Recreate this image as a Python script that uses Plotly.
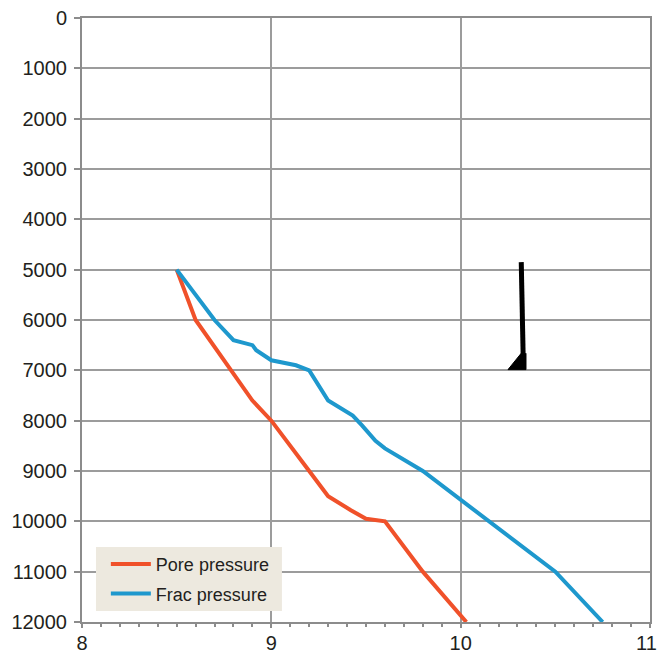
import plotly.graph_objects as go

# Pressure gradient profiles (ppg) versus depth (ft)
pore_ppg = [8.5, 8.6, 8.9, 9.0, 9.2, 9.28, 9.3, 9.42, 9.5, 9.6, 9.8, 10.03]
pore_depth = [5000, 6000, 7600, 8000, 9000, 9400, 9500, 9780, 9950, 10000, 11000, 12000]

frac_ppg = [8.5, 8.7, 8.8, 8.9, 8.92, 9.0, 9.13, 9.2, 9.3, 9.43, 9.48, 9.55, 9.6, 9.8, 10.5, 10.75]
frac_depth = [5000, 6000, 6400, 6500, 6600, 6800, 6900, 7000, 7600, 7900, 8100, 8400, 8550, 9000, 11000, 12000]

# Casing string with its shoe
casing_ppg = [10.32, 10.33]
casing_depth = [4850, 6700]
shoe_ppg = [10.32, 10.25, 10.345, 10.345]
shoe_depth = [6660, 6985, 6985, 6660]

x_ticks = [8, 9, 10, 11]
x_labels = ["8", "9", "10", "11"]
y_ticks = list(range(0, 12001, 1000))
y_labels = [str(v) for v in y_ticks]

ORANGE = "#F0512A"
BLUE = "#1E98CD"
GRID = "#9c9c9c"
AXIS = "#8c8c8c"
TEXT = "#231f20"
LEGEND_BG = "#EDE9DF"

fig = go.Figure()
fig.add_trace(go.Scatter(x=pore_ppg, y=pore_depth, mode="lines", name="Pore pressure",
                         legendgroup="pore", line=dict(color=ORANGE, width=4)))
fig.add_trace(go.Scatter(x=frac_ppg, y=frac_depth, mode="lines", name="Frac pressure",
                         legendgroup="frac", line=dict(color=BLUE, width=4)))
fig.add_trace(go.Scatter(x=casing_ppg, y=casing_depth, mode="lines", showlegend=False,
                         line=dict(color="black", width=5)))
fig.add_trace(go.Scatter(x=shoe_ppg, y=shoe_depth, mode="lines", fill="toself", fillcolor="black",
                         showlegend=False, line=dict(color="black", width=1)))

# Legend panel background
fig.add_shape(type="rect", xref="paper", yref="paper",
              x0=0.0246, x1=0.352, y0=0.0182, y1=0.1242,
              fillcolor=LEGEND_BG, line=dict(width=0), layer="above")

# The last x label sits at the right edge of the page; nudge it inward so it stays readable
fig.add_annotation(x=x_ticks[-1], xref="x", y=0, yref="paper", yanchor="top",
                   text=x_labels[-1], showarrow=False, xanchor="center", xshift=-4, yshift=-8,
                   font=dict(size=20, color=TEXT))

fig.update_layout(
    width=658, height=656,
    margin=dict(l=82, r=8, t=18, b=34),
    paper_bgcolor="white", plot_bgcolor="white",
    font=dict(family="Liberation Sans, Arial, sans-serif", color=TEXT, size=20),
    legend=dict(x=0.042, y=0.126, xanchor="left", yanchor="top",
                bgcolor="rgba(0,0,0,0)", borderwidth=0, itemwidth=40,
                traceorder="grouped", tracegroupgap=3,
                font=dict(size=18, color=TEXT)),
)
fig.update_xaxes(range=[8, 11], tickvals=x_ticks, ticktext=x_labels[:-1] + [""], automargin=False,
                 ticklabeloverflow="allow", ticklabelstandoff=-2,
                 showgrid=True, gridcolor=GRID, gridwidth=1.5,
                 showline=True, linecolor=AXIS, linewidth=2, mirror=True,
                 ticks="outside", ticklen=4, tickcolor=AXIS, tickwidth=1.5,
                 minor=dict(dtick=0.1, ticks="outside", ticklen=3, tickcolor=AXIS, showgrid=False),
                 zeroline=False, tickfont=dict(size=20))
fig.update_yaxes(range=[12000, 0], tickvals=y_ticks, ticktext=y_labels, automargin=False,
                 ticklabeloverflow="allow", ticklabelstandoff=3,
                 showgrid=True, gridcolor=GRID, gridwidth=1.5,
                 showline=True, linecolor=AXIS, linewidth=2, mirror=True,
                 ticks="outside", ticklen=6, tickcolor=AXIS, tickwidth=1.5,
                 zeroline=False, tickfont=dict(size=20))

fig.write_html("out.html")
